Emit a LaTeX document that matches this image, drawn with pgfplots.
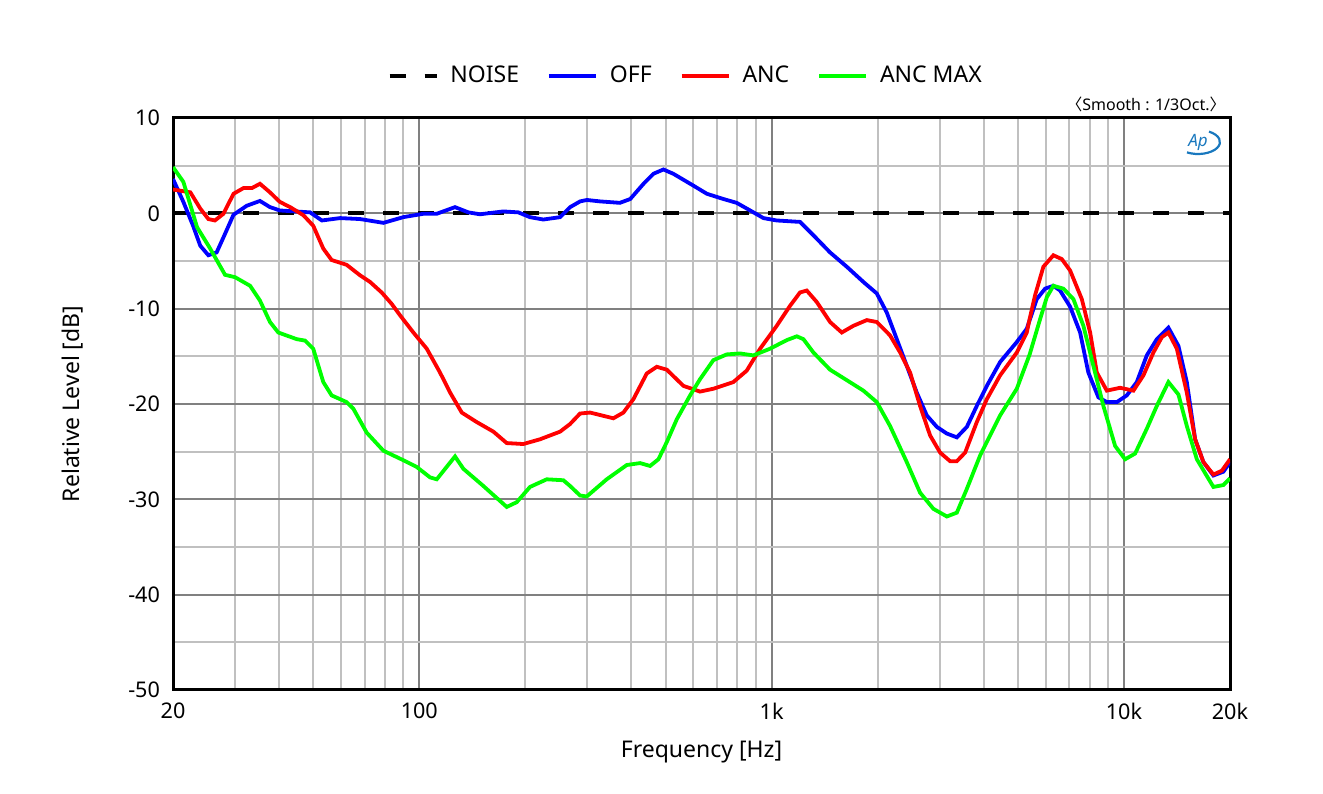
\documentclass[border=0pt]{standalone}
\usepackage{pgfplots}
\usepackage{pgfplotstable}
\pgfplotsset{compat=1.18}
\usepackage{fontspec}
\setmainfont{Noto Sans}
\newfontfamily\cjk{Noto Sans CJK KR}

\definecolor{majgrid}{RGB}{128,128,128}
\definecolor{mingrid}{RGB}{192,192,192}
\definecolor{apblue}{RGB}{25,120,190}

% frequency [Hz], level [dB]
\pgfplotstableread{
f db
20 3.6
21.4 1.2
22.8 -1.3
23.9 -3.4
25.2 -4.4
26.6 -4.1
28.1 -2.15
29.7 -0.15
32.4 0.8
35.3 1.3
37.7 0.65
40.2 0.3
49 0.1
52.9 -0.75
59.6 -0.5
67.9 -0.6
79.1 -1.0
90.1 -0.4
102.7 -0.05
112 -0.05
126.3 0.65
137.8 0.1
148.7 -0.1
173.2 0.2
191 0.1
206 -0.4
225 -0.65
251 -0.4
268 0.65
286 1.25
299 1.4
326 1.25
371 1.1
397 1.5
433 3.1
462 4.15
493 4.6
526 4.15
600 2.9
655 2.05
730 1.5
796 1.1
869 0.3
948 -0.5
1034 -0.75
1204 -0.9
1314 -2.3
1465 -4.1
1634 -5.6
1822 -7.2
1988 -8.4
2122 -10.4
2266 -13.2
2419 -16
2582 -18.8
2757 -21.2
2944 -22.4
3143 -23.1
3355 -23.5
3582 -22.4
3823 -20.2
4081 -18.1
4451 -15.6
4964 -13.5
5300 -12.1
5657 -9
5974 -7.9
6306 -7.6
6588 -8.1
7035 -9.8
7510 -12.5
7926 -16.7
8462 -19.3
8940 -19.8
9545 -19.8
10188 -19.1
10875 -17.7
11610 -14.9
12396 -13.2
13372 -12
14274 -13.9
15080 -17.7
15924 -23.7
16810 -26.1
17945 -27.5
19158 -27.1
20000 -26.1
}\off

\pgfplotstableread{
f db
20 2.5
22.4 2.2
23.9 0.5
25.2 -0.6
26.3 -0.75
27.8 -0.05
29.7 2.05
31.7 2.65
33.5 2.65
35.3 3.1
37.7 2.2
40.2 1.2
43 0.65
46.9 -0.2
50 -1.3
53.4 -3.7
56.4 -4.9
62.2 -5.4
67.9 -6.5
72.5 -7.2
78.2 -8.3
83.5 -9.5
88.2 -10.7
96.2 -12.5
105 -14.2
114.5 -16.7
122.3 -18.8
132 -20.9
145.6 -21.9
162.3 -22.9
177.1 -24.1
197.4 -24.2
220.2 -23.7
251 -22.9
267.9 -22.1
286 -21
305.4 -20.9
355.5 -21.5
379.6 -20.9
405.2 -19.5
442.2 -16.8
472.2 -16.1
504 -16.4
561.9 -18.1
626.4 -18.7
683.4 -18.4
778.8 -17.7
850 -16.5
927.5 -14.2
1034 -11.8
1128 -9.7
1204 -8.3
1258 -8.1
1343 -9.3
1465 -11.4
1582 -12.5
1706 -11.8
1863 -11.2
1988 -11.4
2168 -12.8
2316 -14.6
2472 -16.7
2638 -20.2
2817 -23.3
3008 -25.1
3211 -26
3355 -26
3542 -25.1
3823 -21.9
4081 -19.5
4451 -17
4964 -14.6
5300 -12.5
5390 -11.2
5594 -8.6
5907 -5.6
6306 -4.4
6662 -4.8
7035 -6
7594 -9
8016 -12.5
8375 -16.7
8940 -18.6
9750 -18.3
10637 -18.6
11356 -17
12123 -14.6
12808 -13
13372 -12.5
14127 -14.2
15080 -18.8
15924 -23.7
16810 -26.1
17945 -27.4
18957 -27
20000 -25.8
}\anc

\pgfplotstableread{
f db
20 4.85
21.4 3.3
23.4 -1.45
25.5 -3.7
28.1 -6.45
30 -6.7
33.1 -7.6
35.3 -9.15
37.7 -11.4
39.8 -12.5
44.9 -13.2
47.4 -13.35
50 -14.2
53.4 -17.7
56.4 -19.1
62.2 -19.8
65 -20.5
70.9 -23
79.1 -24.9
90.1 -25.9
98.3 -26.6
107.3 -27.7
112.1 -27.9
126.3 -25.5
133.4 -26.8
152 -28.6
177.1 -30.8
189.1 -30.3
206.2 -28.7
230 -27.9
256.4 -28
267.9 -28.6
286 -29.6
298.8 -29.7
340.4 -27.9
388.2 -26.4
423.4 -26.2
451.9 -26.5
477.2 -25.8
504 -24
538.2 -21.6
587 -19.1
626.4 -17.4
683.4 -15.4
745.9 -14.8
813.7 -14.7
887.6 -14.9
990 -14.2
1104 -13.3
1179 -12.9
1231 -13.2
1314 -14.6
1465 -16.4
1634 -17.5
1822 -18.6
1988 -19.8
2168 -22.3
2419 -26.1
2638 -29.3
2879 -31
3143 -31.8
3355 -31.4
3582 -28.9
3907 -25.4
4451 -21.2
4964 -18.4
5400 -14.8
5781 -11.1
6040 -8.8
6306 -7.6
6733 -7.9
7188 -9
7673 -11.8
8190 -16
8742 -20.2
9438 -24.4
10075 -25.8
10756 -25.2
11610 -22.6
12396 -20.2
13372 -17.7
14274 -19
15080 -22.3
16102 -25.8
17945 -28.7
19158 -28.5
20000 -27.8
}\ancmax

\pgfplotstableread{
f db
20 0
20000 0
}\noise

\begin{document}
\begin{tikzpicture}
\begin{axis}[
  scale only axis,
  width=528.5pt, height=286pt,
  xmode=log,
  xmin=20, xmax=20000, ymin=-50, ymax=10,
  xtick={20,100,1000,10000,20000},
  xticklabels={20,100,1k,10k,20k},
  minor xtick={30,40,50,60,70,80,90,200,300,400,500,600,700,800,900,2000,3000,4000,5000,6000,7000,8000,9000},
  ytick={-50,-40,-30,-20,-10,0,10},
  minor ytick={-45,-35,-25,-15,-5,5},
  grid=both,
  major grid style={majgrid, line width=1pt},
  minor grid style={mingrid, line width=1pt},
  major tick length=0pt, minor tick length=0pt,
  axis line style={black, line width=1.5pt},
  /pgf/number format/assume math mode=true,
  tick label style={font=\fontsize{10.8}{12}\selectfont},
  xticklabel style={yshift=-3pt},
  yticklabel style={xshift=-3pt},
  label style={font=\fontsize{11.5}{13}\selectfont},
  xlabel={Frequency [Hz]},
  ylabel={Relative Level [dB]},
  xlabel style={at={(axis description cs:0.5,-0.108)}, anchor=center},
  ylabel style={at={(axis description cs:-0.0946,0.5)}, anchor=center},
  legend columns=-1,
  legend style={draw=none, fill=none, at={(axis description cs:0.486,1)}, anchor=center, yshift=21pt,
    font=\fontsize{11.5}{13}\selectfont,
    /tikz/every odd column/.append style={column sep=4pt},
    /tikz/every even column/.append style={column sep=12pt}},
  legend image code/.code={\draw[#1] plot coordinates {(0pt,0pt) (23.5pt,0pt)};},
  every axis plot/.append style={line width=1.9pt},
]
\addplot[black, dash pattern=on 8pt off 9.5pt] table {\noise};
\addlegendentry{NOISE}
\addplot[blue] table {\off};
\addlegendentry{OFF}
\addplot[red] table {\anc};
\addlegendentry{ANC}
\addplot[green] table {\ancmax};
\addlegendentry{ANC MAX}
\end{axis}
\node[anchor=south east, inner sep=0pt, font=\fontsize{8}{9}\selectfont]
  at ([xshift=-2pt, yshift=3pt]current axis.north east) {{\cjk 〈}Smooth : 1/3Oct.{\cjk 〉}};
\node[inner sep=0pt, text=apblue, font=\fontsize{8.5}{9}\selectfont\bfseries\itshape]
  (logo) at ([xshift=-16pt, yshift=-12pt]current axis.north east) {Ap};
\draw[apblue, line width=1.1pt] (logo.center) ++(-5.5pt,-5.2pt)
  arc[start angle=-120, end angle=60, x radius=11pt, y radius=6pt];
\path (current axis.south west) ++(-86.5pt,-52pt) rectangle ([xshift=46.5pt, yshift=59pt]current axis.north east);
\end{tikzpicture}
\end{document}
